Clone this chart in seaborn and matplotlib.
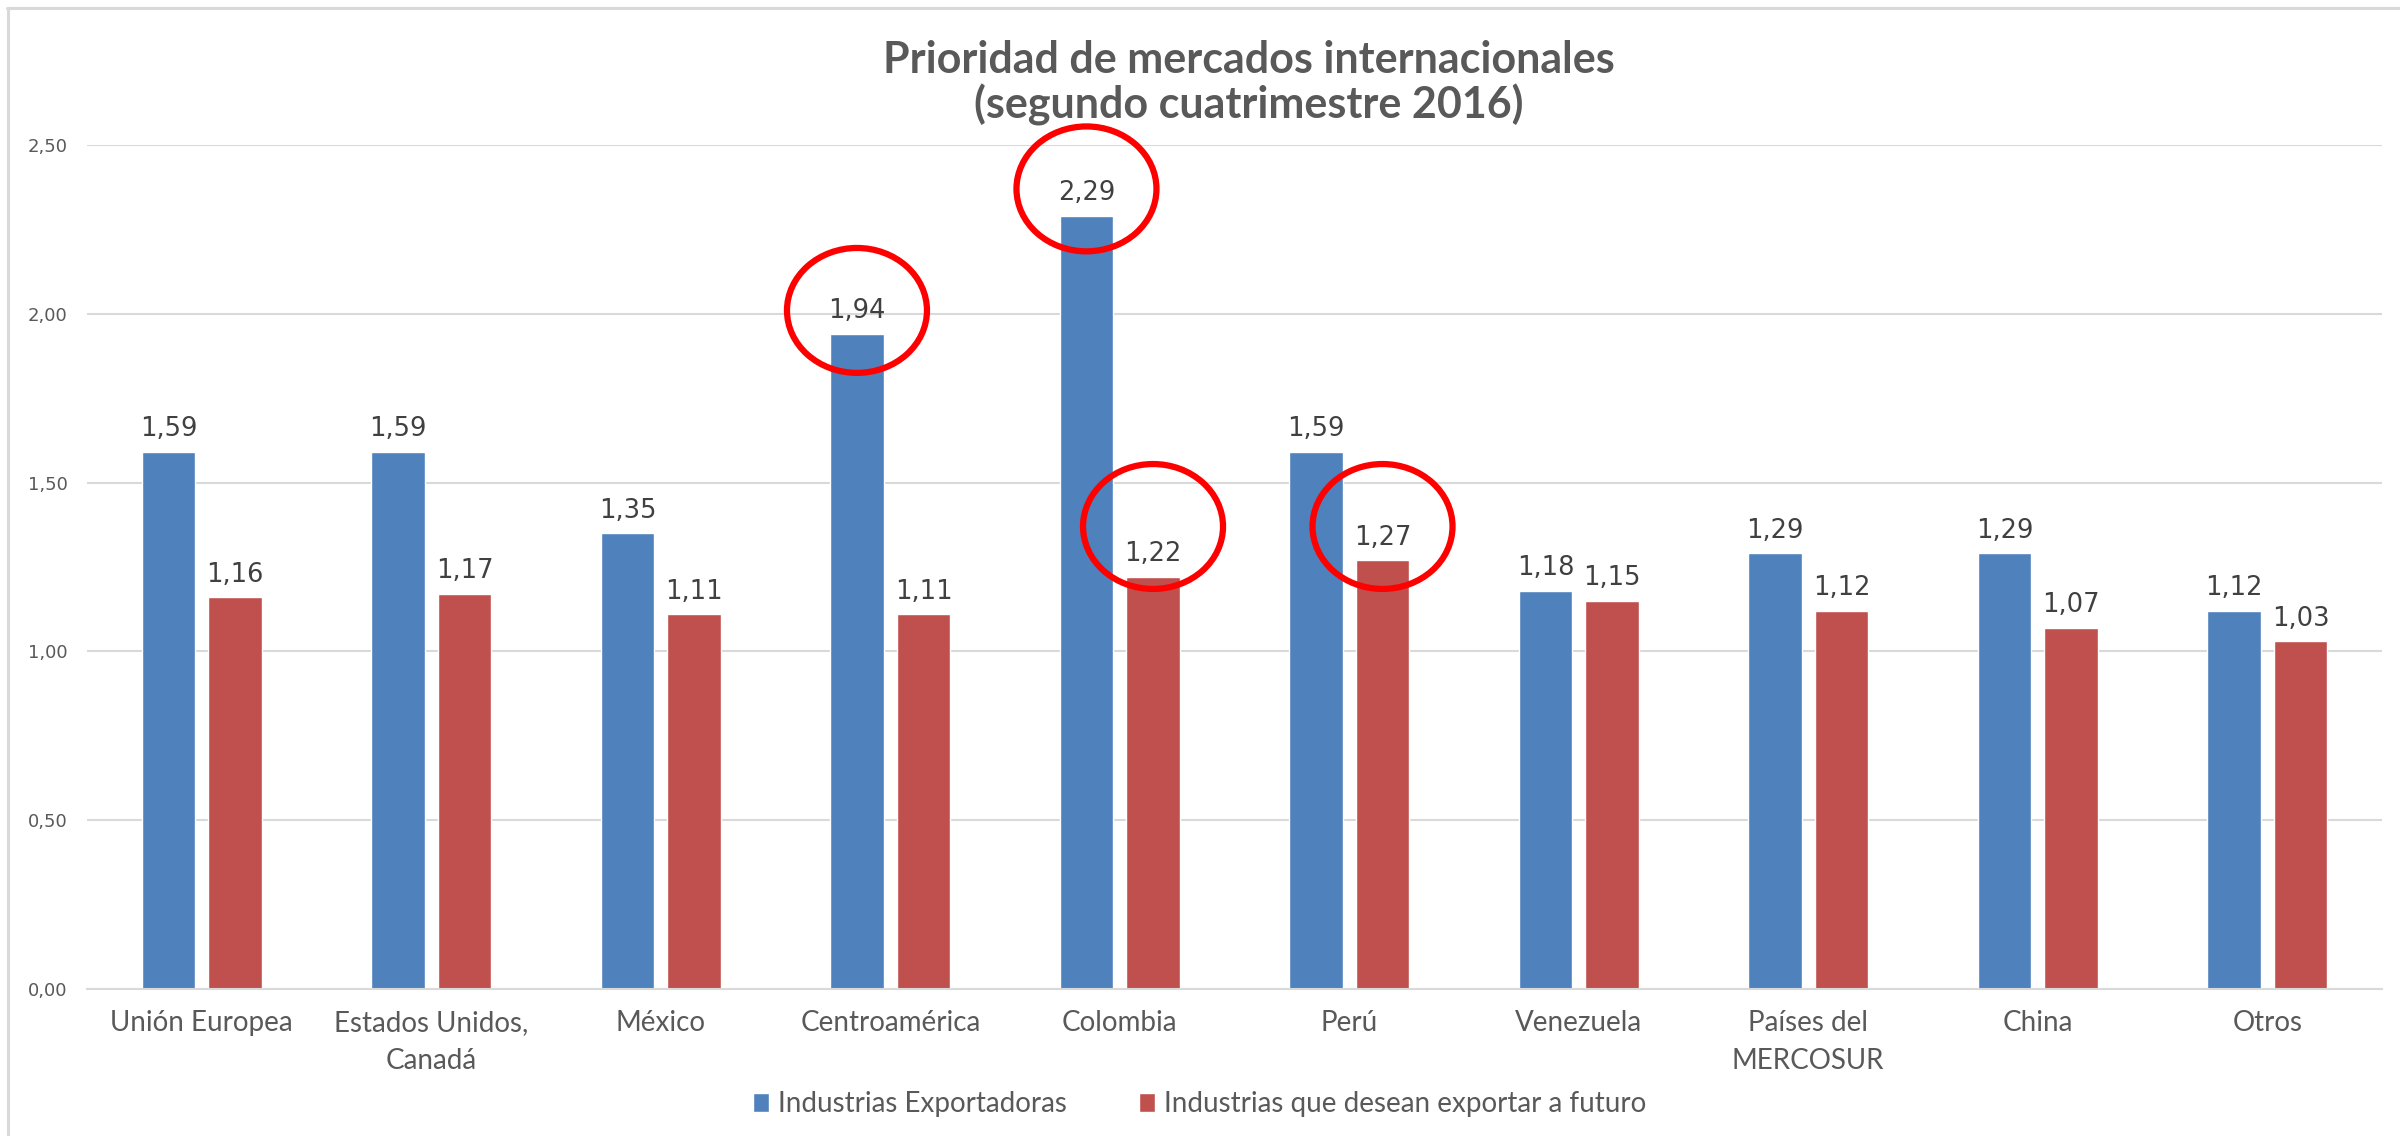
import matplotlib
matplotlib.use("Agg")
import matplotlib.pyplot as plt
from matplotlib.patches import Ellipse
from matplotlib.lines import Line2D
import pandas as pd
import seaborn as sns

# Data
regiones = ["Unión Europea", "Estados Unidos,\nCanadá", "México", "Centroamérica",
            "Colombia", "Perú", "Venezuela", "Países del\nMERCOSUR", "China", "Otros"]
exportadoras = [1.59, 1.59, 1.35, 1.94, 2.29, 1.59, 1.18, 1.29, 1.29, 1.12]
futuro = [1.16, 1.17, 1.11, 1.11, 1.22, 1.27, 1.15, 1.12, 1.07, 1.03]
series = ["Industrias Exportadoras", "Industrias que desean exportar a futuro"]
y_ticks = [0.0, 0.5, 1.0, 1.5, 2.0, 2.5]

# Highlighted values: (region index, series index, circle centre height)
destacados = [(3, 0, 2.01), (4, 0, 2.37), (4, 1, 1.37), (5, 1, 1.37)]

colores = ["#4F81BD", "#C0504D"]
gris_texto = "#595959"

df = pd.DataFrame({
    "region": regiones * 2,
    "valor": exportadoras + futuro,
    "serie": [series[0]] * len(regiones) + [series[1]] * len(regiones),
})

sns.set_theme(style="white")
plt.rcParams["font.family"] = ["Lato", "DejaVu Sans"]

W, H = 2400, 1136
fig = plt.figure(figsize=(W / 100, H / 100), dpi=100)
ax = fig.add_axes([87 / W, 1 - 989 / H, (2382 - 87) / W, (989 - 145) / H])

sns.barplot(data=df, x="region", y="valor", hue="serie", order=regiones,
            hue_order=series, palette=colores, saturation=1, width=0.58, gap=0.2,
            ax=ax, errorbar=None)

ax.set_xlim(-0.5, len(regiones) - 0.5)
ax.set_ylim(0, 2.5)
ax.set_yticks(y_ticks)
ax.set_yticklabels([f"{v:.2f}".replace(".", ",") for v in y_ticks],
                   fontsize=13, color=gris_texto, family="DejaVu Sans")
ax.tick_params(axis="y", length=0, pad=14)
ax.tick_params(axis="x", length=0, pad=15)
for lbl in ax.get_xticklabels():
    lbl.set_fontsize(20)
    lbl.set_color(gris_texto)
    lbl.set_linespacing(1.6)
ax.set_xlabel("")
ax.set_ylabel("")

ax.yaxis.grid(True, color="#D9D9D9", linewidth=1.5)
ax.set_axisbelow(True)
for s in ["top", "right", "left"]:
    ax.spines[s].set_visible(False)
ax.spines["bottom"].set_color("#D9D9D9")
ax.spines["bottom"].set_linewidth(1.5)

# Value labels above each bar
for cont, vals in zip(ax.containers, [exportadoras, futuro]):
    ax.bar_label(cont, labels=[f"{v:.2f}".replace(".", ",") for v in vals],
                 padding=7, fontsize=18.5, color="#404040", family="DejaVu Sans")

# Red circles highlighting selected values
for idx, s_idx, yc in destacados:
    bar = ax.containers[s_idx][idx]
    xc = bar.get_x() + bar.get_width() / 2
    ax.add_patch(Ellipse((xc, yc), width=0.61, height=0.37, fill=False,
                         edgecolor="#FF0000", linewidth=4.5, zorder=5, clip_on=False))

# Legend
handles, labels = ax.get_legend_handles_labels()
ax.get_legend().remove()
fig.legend(handles, labels, loc="center", bbox_to_anchor=(0.5, 1 - 1104 / H),
           ncol=2, frameon=False, fontsize=20, handlelength=0.55, handleheight=0.7,
           handletextpad=0.35, columnspacing=2.6, labelcolor=gris_texto)

# Title
fig.text(1249 / W, 1 - 83 / H, "Prioridad de mercados internacionales\n(segundo cuatrimestre 2016)",
         ha="center", va="center", fontsize=31, fontweight="bold", color=gris_texto,
         linespacing=1.1)

# Chart area frame (top and left edges)
fig.add_artist(Line2D([7 / W, 1], [1 - 7.5 / H] * 2, transform=fig.transFigure,
                      color="#D9D9D9", linewidth=2.2))
fig.add_artist(Line2D([7.5 / W] * 2, [0, 1 - 7.5 / H], transform=fig.transFigure,
                      color="#D9D9D9", linewidth=2.2))

fig.savefig("out.png", dpi=100, facecolor="white")
